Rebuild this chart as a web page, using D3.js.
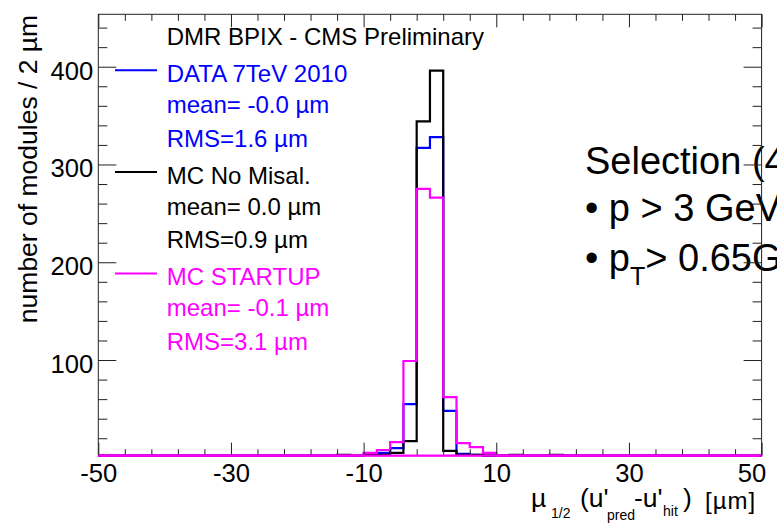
<!DOCTYPE html>
<html>
<head>
<meta charset="utf-8">
<script src="https://cdn.jsdelivr.net/npm/d3@7/dist/d3.min.js"></script>
<style>
  body { margin: 0; background: #fff; }
  svg { display: block; font-family: "Liberation Sans", Arial, Helvetica, sans-serif; }
</style>
</head>
<body>
<svg id="chart" width="777" height="529"></svg>
<script>
// 2 µm bins, lower edges from -50 to 48 µm
const binLow = [
  -50, -48, -46, -44, -42, -40, -38, -36, -34, -32,
  -30, -28, -26, -24, -22, -20, -18, -16, -14, -12,
  -10,  -8,  -6,  -4,  -2,   0,   2,   4,   6,   8,
   10,  12,  14,  16,  18,  20,  22,  24,  26,  28,
   30,  32,  34,  36,  38,  40,  42,  44,  46,  48
];
const binWidth = 2;

// Modules per bin
const data2010 = [
  0, 0, 0, 0, 0, 0, 0, 0, 0, 0,
  0, 0, 0, 0, 0, 0, 0, 0, 0, 0,
  3, 5, 10, 55, 317, 328, 48, 4, 3, 0,
  0, 0, 0, 0, 0, 0, 0, 0, 0, 0,
  0, 0, 0, 0, 0, 0, 0, 0, 0, 0
];
const mcNoMisal = [
  0, 0, 0, 0, 0, 0, 0, 0, 0, 0,
  0, 0, 0, 0, 0, 0, 0, 0, 3, 0,
  3, 3, 5, 17, 344, 396, 7, 3, 3, 0,
  0, 3, 0, 0, 3, 0, 0, 0, 0, 0,
  0, 0, 0, 0, 0, 0, 0, 0, 0, 0
];
const mcStartup = [
  0, 0, 0, 0, 0, 0, 0, 0, 0, 0,
  0, 0, 0, 0, 0, 0, 0, 0, 0, 2,
  5, 8, 16, 99, 275, 266, 62, 15, 11, 5,
  0, 0, 0, 0, 0, 0, 0, 0, 0, 0,
  0, 0, 0, 0, 0, 0, 0, 0, 0, 0
];

const seriesNames = ["DATA 7TeV 2010", "MC No Misal.", "MC STARTUP"];
const seriesMeans = ["-0.0", "0.0", "-0.1"];
const seriesRMS = ["1.6", "0.9", "3.1"];
const seriesColors = ["#0000ff", "#000000", "#ff00ff"];

const xMajorTicks = [-50, -30, -10, 10, 30, 50];
const xMinorTicks = [-46, -42, -38, -34, -26, -22, -18, -14, -6, -2, 2, 6, 14, 18, 22, 26, 34, 38, 42, 46];
const yMajorTicks = [100, 200, 300, 400];
const yMinorTicks = [20, 40, 60, 80, 120, 140, 160, 180, 220, 240, 260, 280, 320, 340, 360, 380, 420, 440];

const titleLine = "DMR BPIX - CMS Preliminary";
const yTitle = "number of modules / 2 \u00b5m";

const svg = d3.select("#chart");
const L = 98.3, R = 761.6, T = 14.3, B = 455.7;

const x = d3.scaleLinear().domain([-50, 50]).range([L, R]);
const y = d3.scaleLinear().domain([2.15, 453.6]).range([B, T]).clamp(true);

const tickFont = 25.6;
const plainNum = d => String(d);   // ASCII hyphen for negatives

// ---- selection text (drawn first so the frame sits on top)
const sel = svg.append("g").attr("fill", "#000");
sel.append("text").attr("x", 585).attr("y", 174.3).attr("font-size", 38).text("Selection (4");
sel.append("text").attr("x", 585).attr("y", 220.7).attr("font-size", 38).text("\u2022 p > 3 GeV");
const r3 = sel.append("text").attr("x", 585).attr("y", 270.7).attr("font-size", 38);
r3.append("tspan").text("\u2022 p");
r3.append("tspan").attr("font-size", 25).attr("dy", 14).text("T");
r3.append("tspan").attr("dy", -14).text("> 0.65GeV");

// ---- histograms (blue, black, magenta on top)
const step = d3.line()
  .x(d => x(d[0]))
  .y(d => y(d[1]))
  .curve(d3.curveStepAfter);

const allSeries = [data2010, mcNoMisal, mcStartup];
allSeries.forEach((vals, k) => {
  const pts = binLow.map((b, i) => [b, vals[i]]);
  pts.push([binLow[binLow.length - 1] + binWidth, vals[vals.length - 1]]);
  svg.append("path")
    .attr("d", step(pts))
    .attr("fill", "none")
    .attr("stroke", seriesColors[k])
    .attr("stroke-width", 2.2);
});

// ---- axes
const axisColor = "#222";
function styleAxis(g) {
  g.select(".domain").remove();
  g.selectAll("line").attr("stroke", axisColor).attr("stroke-width", 1);
  g.selectAll("text").attr("fill", "#000").attr("font-size", tickFont)
    .attr("font-family", "\"Liberation Sans\", Arial, Helvetica, sans-serif");
}

// bottom
const gxb = svg.append("g").attr("transform", `translate(0,${B})`)
  .call(d3.axisBottom(x).tickValues(xMajorTicks).tickSize(-13).tickPadding(7.8).tickFormat(plainNum))
  .call(styleAxis);
gxb.selectAll("text").filter(d => d === 50).attr("x", -10);
svg.append("g").attr("transform", `translate(0,${B})`)
  .call(d3.axisBottom(x).tickValues(xMinorTicks).tickSize(-6.5).tickFormat(""))
  .call(styleAxis);
// top
svg.append("g").attr("transform", `translate(0,${T})`)
  .call(d3.axisTop(x).tickValues(xMajorTicks).tickSize(-13).tickFormat(""))
  .call(styleAxis);
svg.append("g").attr("transform", `translate(0,${T})`)
  .call(d3.axisTop(x).tickValues(xMinorTicks).tickSize(-6.5).tickFormat(""))
  .call(styleAxis);
// left
const gyl = svg.append("g").attr("transform", `translate(${L},0)`)
  .call(d3.axisLeft(y).tickValues(yMajorTicks).tickSize(-18).tickPadding(5).tickFormat(plainNum))
  .call(styleAxis);
gyl.selectAll("text").attr("dy", "0.48em");
svg.append("g").attr("transform", `translate(${L},0)`)
  .call(d3.axisLeft(y).tickValues(yMinorTicks).tickSize(-9).tickFormat(""))
  .call(styleAxis);
// right
svg.append("g").attr("transform", `translate(${R},0)`)
  .call(d3.axisRight(y).tickValues(yMajorTicks).tickSize(-18).tickFormat(""))
  .call(styleAxis);
svg.append("g").attr("transform", `translate(${R},0)`)
  .call(d3.axisRight(y).tickValues(yMinorTicks).tickSize(-9).tickFormat(""))
  .call(styleAxis);

// frame
svg.append("rect")
  .attr("x", L).attr("y", T).attr("width", R - L).attr("height", B - T)
  .attr("fill", "none").attr("stroke", axisColor).attr("stroke-width", 1);

// magenta baseline lies over the frame bottom
svg.append("line")
  .attr("x1", x(-50)).attr("x2", x(50)).attr("y1", y(0)).attr("y2", y(0))
  .attr("stroke", seriesColors[2]).attr("stroke-width", 2.2);

// ---- axis titles
svg.append("text")
  .attr("transform", `translate(37,${T + 0.5}) rotate(-90)`)
  .attr("text-anchor", "end")
  .attr("font-size", 26.5)
  .text(yTitle);

const xt = svg.append("text").attr("font-size", 26.5).attr("fill", "#000");
xt.append("tspan").attr("x", 531).attr("y", 507).text("\u00b5");
xt.append("tspan").attr("x", 551).attr("y", 518).attr("font-size", 14).text("1/2");
xt.append("tspan").attr("x", 580).attr("y", 507).text("(u'");
xt.append("tspan").attr("x", 607).attr("y", 520).attr("font-size", 14).text("pred");
xt.append("tspan").attr("x", 634).attr("y", 507).text("-u'");
xt.append("tspan").attr("x", 663).attr("y", 516).attr("font-size", 14).text("hit");
xt.append("tspan").attr("x", 683).attr("y", 507).text(")");
xt.append("tspan").attr("x", 705).attr("y", 509).attr("font-size", 24)
  .attr("letter-spacing", 1).text("[\u00b5m]");

// ---- legend
const legFont = 24;
const legX = 166.7, rowH = 33.9, row0 = 45;
const leg = svg.append("g").attr("font-size", legFont);
leg.append("text").attr("x", legX).attr("y", row0).attr("fill", "#000").text(titleLine);
seriesNames.forEach((name, k) => {
  const base = row0 + rowH * (1 + 3 * k);
  leg.append("line")
    .attr("x1", 115).attr("x2", 157)
    .attr("y1", base + 3 - 11.7).attr("y2", base + 3 - 11.7)
    .attr("stroke", seriesColors[k]).attr("stroke-width", 2);
  leg.append("text").attr("x", legX).attr("y", base + 3).attr("fill", seriesColors[k]).text(name);
  leg.append("text").attr("x", legX).attr("y", base + rowH).attr("fill", seriesColors[k])
    .text(`mean= ${seriesMeans[k]} \u00b5m`);
  leg.append("text").attr("x", legX).attr("y", base + 2 * rowH).attr("fill", seriesColors[k])
    .text(`RMS=${seriesRMS[k]} \u00b5m`);
});
</script>
</body>
</html>
